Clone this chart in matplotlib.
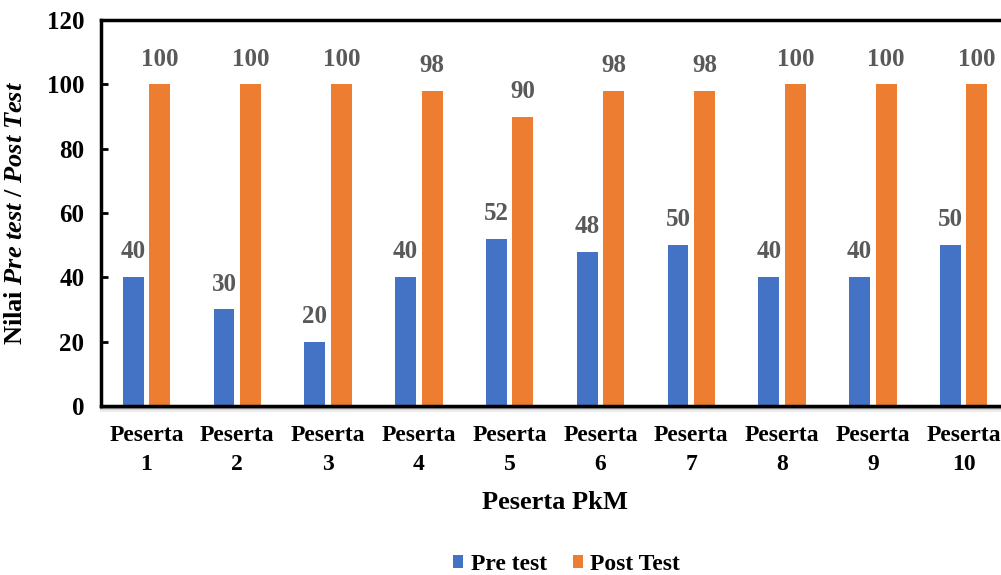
import matplotlib.pyplot as plt
import numpy as np

plt.rcParams['font.family'] = ['Liberation Serif', 'DejaVu Serif']
plt.rcParams['font.weight'] = 'bold'
plt.rcParams['mathtext.fontset'] = 'custom'
plt.rcParams['mathtext.rm'] = 'Liberation Serif:bold'
plt.rcParams['mathtext.bfit'] = 'Liberation Serif:bold:italic'

categories = ['Peserta\n%d' % i for i in range(1, 11)]
pre_test = [40, 30, 20, 40, 52, 48, 50, 40, 40, 50]
post_test = [100, 100, 100, 98, 90, 98, 98, 100, 100, 100]

blue = '#4472C4'
orange = '#ED7D31'

fig = plt.figure(figsize=(10.01, 5.75), dpi=100)
ax = fig.add_axes([0.101, 0.294, 0.907, 0.671])

x = np.arange(len(categories))
w = 0.23
b1 = ax.bar(x - 0.146, pre_test, w, color=blue, label='Pre test')
b2 = ax.bar(x + 0.146, post_test, w, color=orange, label='Post Test')
ax.bar_label(b1, padding=10, fontsize=18, color='#595959', fontweight='bold')
ax.bar_label(b2, padding=10, fontsize=18, color='#595959', fontweight='bold')

ax.set_xlim(-0.5, len(categories) - 0.5)
ax.set_ylim(0, 120)
ax.set_yticks(range(0, 121, 20))
ax.set_xticks(x)
ax.set_xticklabels(categories, fontsize=17, linespacing=1.45)
ax.tick_params(axis='y', direction='in', length=5, width=2, labelsize=18, pad=12)
ax.tick_params(axis='x', length=0, pad=14)
for s in ax.spines.values():
    s.set_linewidth(2.5)

# faint shadow under the base line
for i, a in enumerate([0.25, 0.15, 0.07]):
    ax.axhline(-0.6 - i * 0.5, color='black', alpha=a, lw=1.5, clip_on=False)

ax.set_xlabel('Peserta PkM', fontsize=19, fontweight='bold', labelpad=12)
ax.set_ylabel(r'Nilai $\mathbfit{Pre}$ $\mathbfit{test}$ / $\mathbfit{Post}$ $\mathbfit{Test}$',
              fontsize=19, fontweight='bold', labelpad=14)

ax.legend(loc='lower center', bbox_to_anchor=(0.566, -0.02),
          bbox_transform=fig.transFigure, ncol=2, frameon=False, fontsize=17,
          handlelength=0.45, handleheight=0.45, columnspacing=1.1, handletextpad=0.3,
          borderaxespad=0.1)

fig.savefig('out.png', dpi=100)
